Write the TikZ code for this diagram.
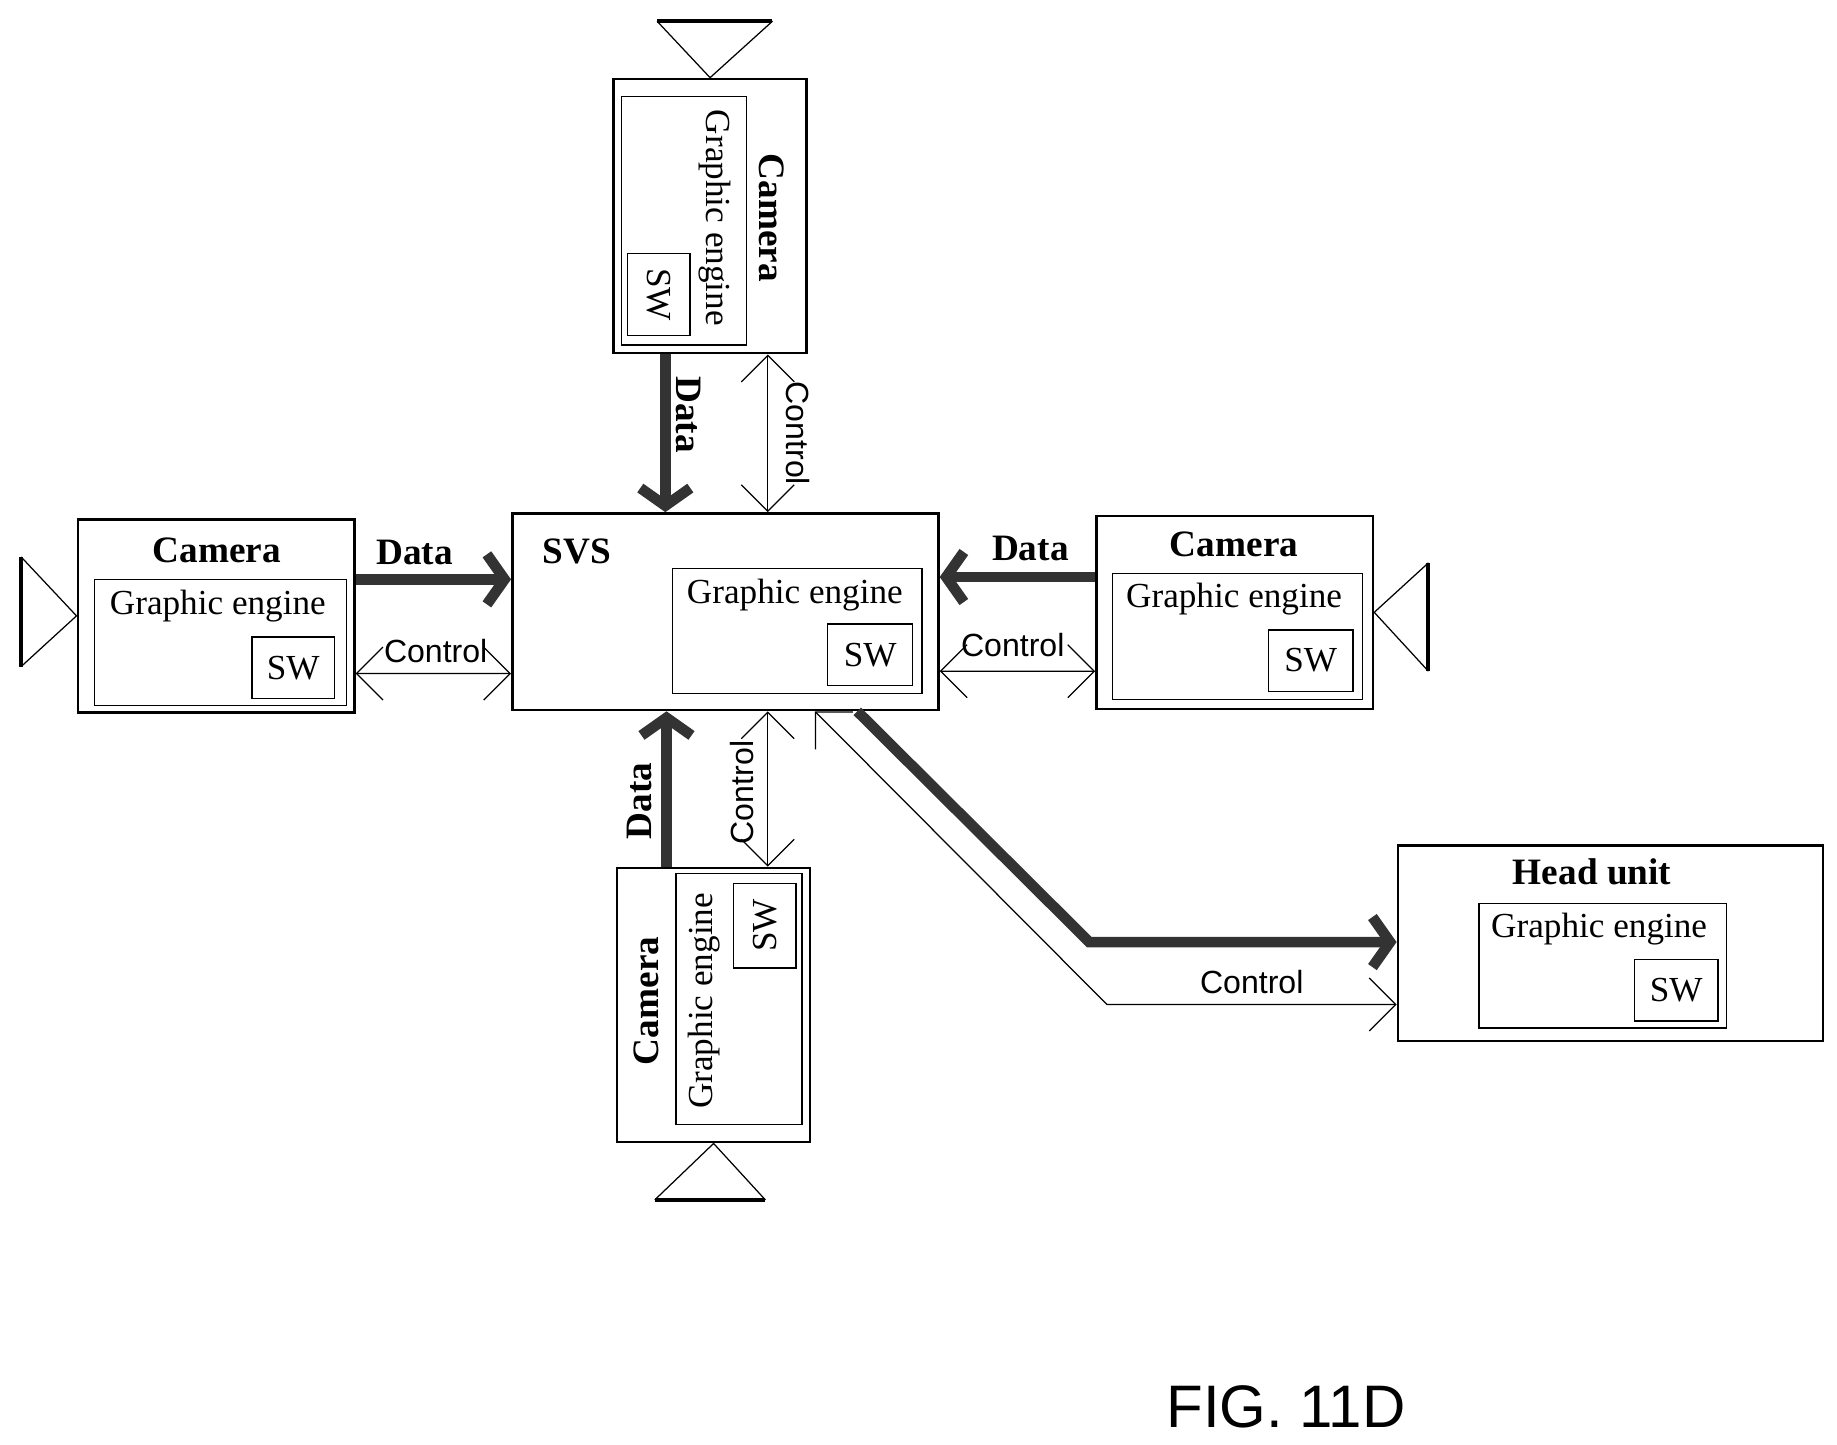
\documentclass[tikz,border=0pt]{standalone}
\usepackage{fontspec}
\setmainfont{Liberation Serif}
\setsansfont{Liberation Sans}
\usetikzlibrary{calc, arrows.meta}

\begin{document}
\begin{tikzpicture}[x=0.02cm, y=-0.02cm,
    box/.style={draw, line width=1.2pt, inner sep=0pt},
    inbox/.style={draw, line width=0.6pt, inner sep=0pt},
    title/.style={font=\fontsize{18}{20}\selectfont\bfseries},
    ge/.style={font=\fontsize{17}{20}\selectfont},
    ctl/.style={font=\sffamily\fontsize{15.5}{18}\selectfont},
    data/.style={line width=0.18cm, draw=black!80, -{Straight Barb[length=0.3cm,width=0.85cm]}},
    ctrl/.style={line width=0.6pt, {Straight Barb[length=0.45cm,width=0.9cm]}-{Straight Barb[length=0.45cm,width=0.9cm]}},
    ant/.style={line width=0.6pt}]
    \useasboundingbox (0,0) rectangle (1560,1227);

    % SVS
    \node [box, minimum width=7.24cm, minimum height=3.34cm] (svs) at (616,519.5) {};
    \node [title] at (490,468) {SVS};
    \node [inbox, minimum width=4.24cm, minimum height=2.12cm] (svsge) at (677,536) {};
    \node [ge] at (675,505) {Graphic engine};
    \node [inbox, minimum width=1.44cm, minimum height=1.04cm, ge] (svssw) at (739,556) {SW};

    % top camera
    \node [box, minimum width=3.28cm, minimum height=4.66cm] (topcam) at (603,183.5) {};
    \node [title, rotate=-90] at (655,185) {Camera};
    \node [inbox, minimum width=2.12cm, minimum height=4.22cm] (topge) at (581,187.5) {};
    \node [ge, rotate=-90] at (607,185) {Graphic engine};
    \node [inbox, minimum width=1.06cm, minimum height=1.4cm] (topsw) at (559.5,250) {};
    \node [ge, rotate=-90] at (559.5,250) {SW};
    \draw [ant] (topcam.north) -- (558,18) (topcam.north) -- (656,18);
    \draw [line width=2pt] (558,18) -- (656,18);

    % left camera
    \node [box, minimum width=4.7cm, minimum height=3.28cm] (leftcam) at (183.5,523) {};
    \node [title] at (184,467) {Camera};
    \node [inbox, minimum width=4.28cm, minimum height=2.14cm] (leftge) at (187,545.5) {};
    \node [ge] at (185,515) {Graphic engine};
    \node [inbox, minimum width=1.4cm, minimum height=1.04cm, ge] (leftsw) at (249,567) {SW};
    \draw [ant] (leftcam.west) -- (18,473) (leftcam.west) -- (18,566);
    \draw [line width=2pt] (18,473) -- (18,566);

    % right camera
    \node [box, minimum width=4.7cm, minimum height=3.28cm] (rightcam) at (1048.5,520) {};
    \node [title] at (1048,462) {Camera};
    \node [inbox, minimum width=4.24cm, minimum height=2.14cm] (rightge) at (1051,540.5) {};
    \node [ge] at (1048,509) {Graphic engine};
    \node [inbox, minimum width=1.44cm, minimum height=1.04cm, ge] (rightsw) at (1113,561) {SW};
    \draw [ant] (rightcam.east) -- (1213,478) (rightcam.east) -- (1213,570);
    \draw [line width=2pt] (1213,478) -- (1213,570);

    % bottom camera
    \node [box, minimum width=3.28cm, minimum height=4.66cm] (botcam) at (606,853.5) {};
    \node [title, rotate=90] at (549,850) {Camera};
    \node [inbox, minimum width=2.14cm, minimum height=4.26cm] (botge) at (627.5,848.5) {};
    \node [ge, rotate=90] at (598,850) {Graphic engine};
    \node [inbox, minimum width=1.06cm, minimum height=1.44cm] (botsw) at (649.5,786) {};
    \node [ge, rotate=90] at (649.5,786) {SW};
    \draw [ant] (botcam.south) -- (556,1019) (botcam.south) -- (650,1019);
    \draw [line width=2pt] (556,1019) -- (650,1019);

    % head unit
    \node [box, minimum width=7.22cm, minimum height=3.32cm] (head) at (1367.5,801) {};
    \node [title] at (1352,740) {Head unit};
    \node [inbox, minimum width=4.2cm, minimum height=2.12cm] (headge) at (1361,820) {};
    \node [ge] at (1358,789) {Graphic engine};
    \node [inbox, minimum width=1.42cm, minimum height=1.04cm, ge] (headsw) at (1423.5,841) {SW};

    % links top
    \draw [data] ($(topcam.south)+(-38,0)$) -- ($(svs.north)+(-51,0)$);
    \node [title, rotate=-90] at (585,352) {Data};
    \draw [ctrl] ($(topcam.south)+(49,0)$) -- ($(svs.north)+(36,0)$);
    \node [ctl, rotate=-90] at (678,368) {Control};

    % links left
    \draw [data] ($(leftcam.east)+(0,-31)$) -- ($(svs.west)+(0,-27.5)$);
    \node [title] at (352,469) {Data};
    \draw [ctrl] ($(leftcam.east)+(0,49)$) -- ($(svs.west)+(0,52.5)$);
    \node [ctl] at (370,553) {Control};

    % links right
    \draw [data] ($(rightcam.west)+(0,-30)$) -- ($(svs.east)+(0,-29.5)$);
    \node [title] at (875,466) {Data};
    \draw [ctrl] ($(svs.east)+(0,50.5)$) -- ($(rightcam.west)+(0,50)$);
    \node [ctl] at (860,548) {Control};

    % links bottom
    \draw [data] ($(botcam.north)+(-40,0)$) -- ($(svs.south)+(-50,0)$);
    \node [title, rotate=90] at (543,680) {Data};
    \draw [ctrl] ($(botcam.north)+(46,0)$) -- ($(svs.south)+(36,0)$);
    \node [ctl, rotate=90] at (630,673) {Control};

    % links head unit
    \draw [data] ($(svs.south)+(112,0)$) -- (925,800) -- (head.west |- 0,800);
    \draw [ctrl] ($(head.west)+(0,52)$) -- (940,853) -- ($(svs.south)+(76,0)$);
    \node [ctl] at (1063,834) {Control};

    \node [font=\sffamily\fontsize{29}{32}\selectfont] at (1092,1195) {FIG. 11D};
\end{tikzpicture}
\end{document}
